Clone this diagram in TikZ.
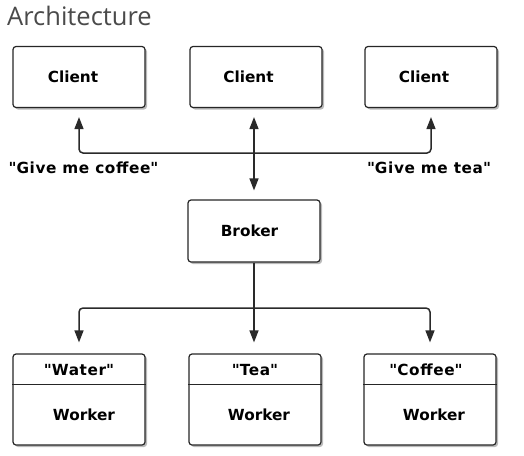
\documentclass[tikz,border=0pt]{standalone}
\usepackage{fontspec}
\setmainfont{DejaVu Sans}
\newfontfamily\spacedfont[LetterSpace=4]{DejaVu Sans}
\newfontfamily\titlefont{Open Sans}
\usetikzlibrary{arrows.meta,shadows,calc}
\definecolor{linec}{HTML}{2A2A2A}
\definecolor{titlec}{HTML}{4A4A4A}
\newcommand{\qq}{\textquotedbl}
\tikzset{
  box/.style={draw=black!85, line width=1.2pt, fill=white, rounded corners=3pt,
    minimum width=132pt, inner sep=0pt,
    drop shadow={shadow xshift=2pt, shadow yshift=-2pt, opacity=0.45, fill=black!60}},
  lbl/.style={font=\bfseries\fontsize{15.3}{17}\selectfont, inner sep=0pt},
  slbl/.style={font=\spacedfont\bfseries\fontsize{15.3}{17}\selectfont, inner sep=0pt},
  conn/.style={draw=linec, line width=1.5pt, rounded corners=4pt},
  tip/.tip={Triangle[length=12pt,width=9pt]},
  tipa/.style={-tip},
}
\begin{document}
\begin{tikzpicture}[x=1pt,y=-1pt]
\useasboundingbox (0,0) rectangle (524,455);
\node[anchor=base west, inner sep=0pt, text=titlec, font=\titlefont\fontsize{25.5}{29}\selectfont] (title) at (7,25) {Architecture};
% clients
\node[box, minimum height=61pt] (c1) at (79,77) {};
\node[box, minimum height=61pt] (c2) at (256,77) {};
\node[box, minimum height=61pt] (c3) at (431,77) {};
\node[lbl] (t1) at (73,77) {Client};
\node[lbl] (t2) at (248.5,77) {Client};
\node[lbl] (t3) at (424,77) {Client};
% broker
\node[box, minimum height=62pt] (b) at (254,231) {};
\node[lbl] (bt) at (249.5,231) {Broker};
% workers
\node[box, minimum height=91pt] (w1) at (79,399.5) {};
\node[box, minimum height=91pt] (w2) at (255,399.5) {};
\node[box, minimum height=91pt] (w3) at (430,399.5) {};
\foreach \w in {w1,w2,w3}{
  \draw[black!85, line width=1.1pt] ($(\w.north west)+(0,31)$) -- ($(\w.north east)+(0,31)$);
}
\node[slbl] (h1) at (79,370) {\qq Water\qq};
\node[slbl] (h2) at (255,370) {\qq Tea\qq};
\node[slbl] (h3) at (426,370) {\qq Coffee\qq};
\node[lbl] (k1) at (84,415) {Worker};
\node[lbl] (k2) at (259,415) {Worker};
\node[lbl] (k3) at (434,415) {Worker};
% labels
\node[slbl] (g1) at (83.5,168) {\qq Give me coffee\qq};
\node[slbl] (g2) at (429,168) {\qq Give me tea\qq};
% connectors
\coordinate (bus) at (254,153);
\coordinate (bus2) at (254,308);
\draw[conn, tip-tip, shorten <=9pt, shorten >=9pt] (c1.south) |- (bus) -| (c3.south);
\draw[conn, tip-tip, shorten <=9pt, shorten >=9pt] (c2.south -| bus) -- (b.north);
\draw[conn] (b.south) -- (bus2);
\draw[conn, tipa, shorten >=11pt] (bus2) -| (w1.north);
\draw[conn, tipa, shorten >=11pt] (bus2) -- (bus2 |- w2.north);
\draw[conn, tipa, shorten >=11pt] (bus2) -| (w3.north);
\end{tikzpicture}
\end{document}
